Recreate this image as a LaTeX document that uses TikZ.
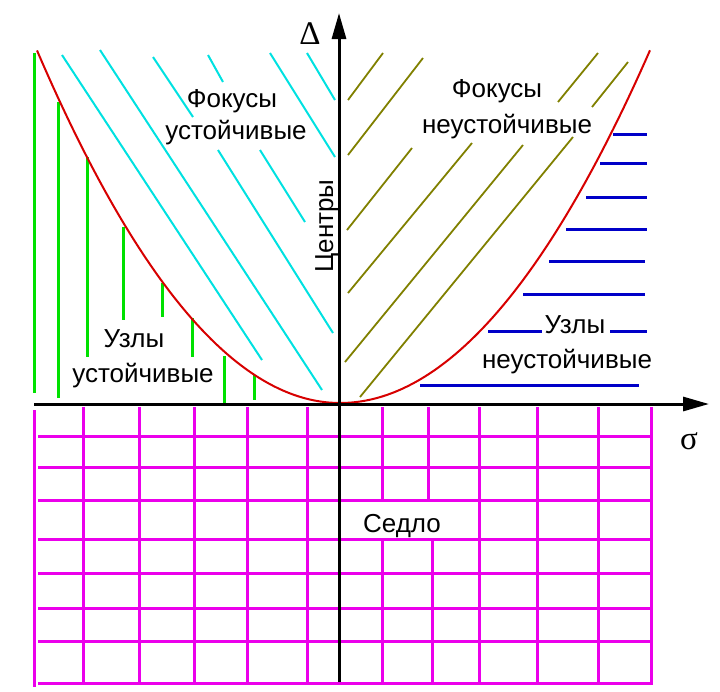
\documentclass[tikz,border=0pt]{standalone}
\usepackage{fontspec}
\setmainfont{Liberation Sans}
\newfontfamily\grfont{Liberation Serif}
\usetikzlibrary{arrows.meta}

\definecolor{cyanline}{RGB}{0,225,225}
\definecolor{oliveline}{RGB}{128,128,0}
\definecolor{greenline}{RGB}{0,225,0}
\definecolor{blueline}{RGB}{0,0,200}
\definecolor{gridline}{RGB}{235,0,235}
\definecolor{curveline}{RGB}{215,0,0}

\begin{document}
\begin{tikzpicture}[x=1pt, y=-1pt, font=\fontsize{26}{31}\selectfont,
    axis/.style={line width=3pt, -{Triangle[length=26pt,width=14pt]}},
    stabfoc/.style={cyanline, line width=2pt},
    unstfoc/.style={oliveline, line width=1.8pt},
    stabnode/.style={greenline, line width=3pt},
    unstnode/.style={blueline, line width=3pt},
    saddle/.style={gridline, line width=3pt},
    bound/.style={curveline, line width=2pt},
    lbl/.style={inner sep=0pt, anchor=base}]
	\useasboundingbox (0,0) rectangle (720,691);
	% saddle grid
	\foreach \y in {436,467,500,539,573,608,641,683}
		\draw[saddle] (38,\y) -- (651,\y);
	\draw[saddle] (34,410) -- (34,687);
	\foreach \x in {83,139,194,247,307,479,537,598,651}
		\draw[saddle] (\x,407) -- (\x,685);
	\draw[saddle] (382,407) -- (382,500) (382,539) -- (382,685);
	\draw[saddle] (428,407) -- (428,500) (432,539) -- (432,685);
	% stable foci
	\draw[stabfoc] (62,55) -- (262,360);
	\draw[stabfoc] (100,50) -- (322,390);
	\draw[stabfoc] (153,57) -- (193,117) (218,150) -- (333,333);
	\draw[stabfoc] (208,55) -- (223,82) (260,150) -- (305,222);
	\draw[stabfoc] (270,53) -- (335,157);
	\draw[stabfoc] (307,53) -- (335,100);
	% unstable foci
	\draw[unstfoc] (348,100) -- (383,53);
	\draw[unstfoc] (348,155) -- (423,58);
	\draw[unstfoc] (347,230) -- (412,148);
	\draw[unstfoc] (348,293) -- (472,143);
	\draw[unstfoc] (345,362) -- (523,145);
	\draw[unstfoc] (360,397) -- (573,137);
	\draw[unstfoc] (558,102) -- (598,53);
	\draw[unstfoc] (592,107) -- (628,62);
	% stable nodes
	\foreach \x/\ya/\yb in {34/53/393, 58/102/398, 87/157/357, 123/227/320,
	                        162/283/317, 192/318/357, 224/356/403, 254/375/400}
		\draw[stabnode] (\x,\ya) -- (\x,\yb);
	% unstable nodes
	\foreach \xa/\xb/\y in {613/647/134, 600/647/163, 586/647/197, 566/647/229,
	                        549/645/261, 523/645/294, 488/542/331, 610/647/331, 420/639/385}
		\draw[unstnode] (\xa,\y) -- (\xb,\y);
	% boundary
	\draw[bound] plot[domain=37:340, samples=60] (\x,{403-0.384*((\x-340)/10)^2})
	          -- plot[domain=340:650, samples=60] (\x,{403-0.367*((\x-340)/10)^2});
	% axes
	\draw[axis] (34,404) -- (709,404);
	\draw[axis] (339,682) -- (339,13);
	\node[font=\grfont\fontsize{33}{36}\selectfont, inner sep=0pt] (delta) at (310,34) {Δ};
	\node[font=\grfont\fontsize{33}{36}\selectfont, inner sep=0pt] (sigma) at (689,441) {σ};
	% labels
	\node[lbl] (focL1) at (232,107) {Фокусы};
	\node[lbl] (focL2) at (236,139) {устойчивые};
	\node[lbl] (focR1) at (497,97) {Фокусы};
	\node[lbl] (focR2) at (507,133) {неустойчивые};
	\node[lbl] (nodL1) at (134,347) {Узлы};
	\node[lbl] (nodL2) at (143,382) {устойчивые};
	\node[lbl] (nodR1) at (575,333) {Узлы};
	\node[lbl] (nodR2) at (567,368) {неустойчивые};
	\node[lbl, rotate=90] (centr) at (333,226) {Центры};
	\node[lbl] (sedlo) at (402,532) {Седло};
\end{tikzpicture}
\end{document}
